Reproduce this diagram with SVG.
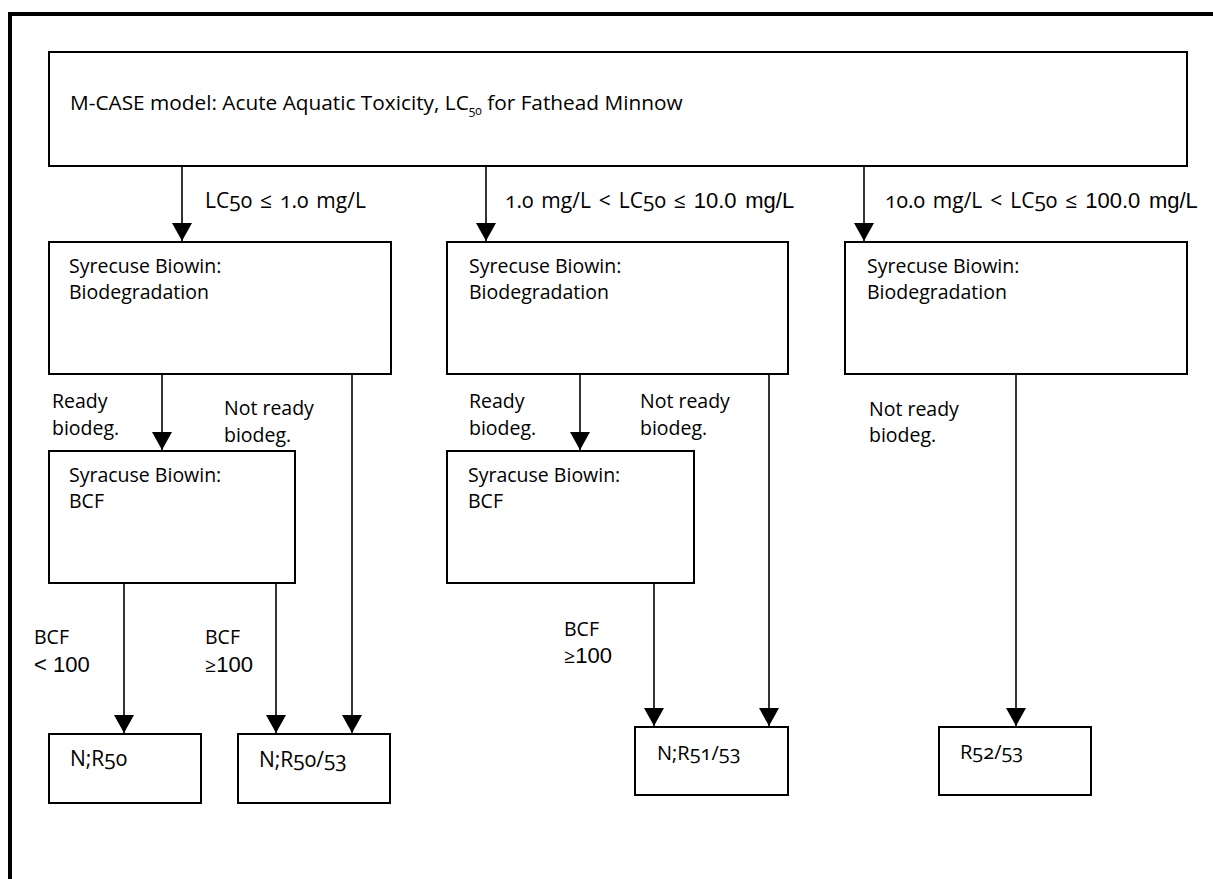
<svg xmlns="http://www.w3.org/2000/svg" width="1213" height="879" viewBox="0 0 1213 879">
<style>
.box{fill:#fff;stroke:#000;stroke-width:2}
.t{font-family:"Open Sans","Noto Sans","DejaVu Sans",sans-serif;font-size:19.5px;fill:#000;font-variant-numeric:oldstyle-nums}
.l{font-size:21px;word-spacing:2.5px}
.l .a{font-size:22px}
.r{font-size:21px}
.m{font-size:20px}
.h{font-size:20.8px}
.s{font-size:12px}
.a{font-family:"Liberation Sans",Arial,sans-serif}
.n{font-family:"Liberation Sans",Arial,sans-serif;font-size:22px}
.c{stroke:#000;stroke-width:1.6;fill:none}
</style>
<defs>
<marker id="ah" markerUnits="userSpaceOnUse" markerWidth="20" markerHeight="20" refX="18" refY="10" orient="auto">
<path d="M0,0 L18,10 L0,20 Z" fill="#000"/>
</marker>
</defs>
<g id="frame">
<line x1="8" y1="14" x2="1213" y2="14" stroke="#000" stroke-width="4"/>
<line x1="10" y1="12" x2="10" y2="879" stroke="#000" stroke-width="4"/>
</g>
<g id="connectors">
<line class="c" x1="182" y1="166" x2="182" y2="241" marker-end="url(#ah)"/>
<line class="c" x1="486" y1="166" x2="486" y2="241" marker-end="url(#ah)"/>
<line class="c" x1="864" y1="166" x2="864" y2="241" marker-end="url(#ah)"/>
<line class="c" x1="162" y1="374" x2="162" y2="450" marker-end="url(#ah)"/>
<line class="c" x1="352" y1="374" x2="352" y2="733" marker-end="url(#ah)"/>
<line class="c" x1="124" y1="583" x2="124" y2="733" marker-end="url(#ah)"/>
<line class="c" x1="276" y1="583" x2="276" y2="733" marker-end="url(#ah)"/>
<line class="c" x1="580" y1="374" x2="580" y2="450" marker-end="url(#ah)"/>
<line class="c" x1="769" y1="374" x2="769" y2="726" marker-end="url(#ah)"/>
<line class="c" x1="654" y1="575" x2="654" y2="726" marker-end="url(#ah)"/>
<line class="c" x1="1016" y1="374" x2="1016" y2="726" marker-end="url(#ah)"/>
<text class="t l" x="205" y="208">LC50 ≤ 1.0 mg/L</text>
<text class="t l" x="505" y="208">1.0 mg/L &lt; LC50 ≤ <tspan class="a">10.0 mg/L</tspan></text>
<text class="t l" x="885" y="208">10.0 mg/L &lt; LC50 ≤ <tspan class="a">100.0 mg/L</tspan></text>
<text class="t" x="52" y="408">Ready</text>
<text class="t" x="52" y="435">biodeg.</text>
<text class="t" x="224" y="415">Not ready</text>
<text class="t" x="224" y="442">biodeg.</text>
<text class="t" x="469" y="408">Ready</text>
<text class="t" x="469" y="435">biodeg.</text>
<text class="t" x="640" y="408">Not ready</text>
<text class="t" x="640" y="435">biodeg.</text>
<text class="t" x="869" y="416">Not ready</text>
<text class="t" x="869" y="442">biodeg.</text>
<text class="t" x="34" y="644">BCF</text>
<text class="n" x="34" y="672">&lt; 100</text>
<text class="t" x="205" y="644">BCF</text>
<text class="t" x="205" y="672"><tspan>≥</tspan><tspan class="n">100</tspan></text>
<text class="t" x="564" y="636">BCF</text>
<text class="t" x="564" y="663"><tspan>≥</tspan><tspan class="n">100</tspan></text>
</g>
<g id="top">
<rect class="box" x="49" y="52" width="1138" height="114"/>
<text class="t h" x="70" y="110">M-CASE model: Acute Aquatic Toxicity, LC<tspan class="s" dy="5">50</tspan><tspan dy="-5"> for Fathead Minnow</tspan></text>
</g>
<g id="bio1">
<rect class="box" x="49" y="242" width="342" height="132"/>
<text class="t" x="69" y="273">Syrecuse Biowin:</text>
<text class="t" x="69" y="299">Biodegradation</text>
</g>
<g id="bio2">
<rect class="box" x="447" y="242" width="341" height="132"/>
<text class="t" x="469" y="273">Syrecuse Biowin:</text>
<text class="t" x="469" y="299">Biodegradation</text>
</g>
<g id="bio3">
<rect class="box" x="845" y="242" width="342" height="132"/>
<text class="t" x="867" y="273">Syrecuse Biowin:</text>
<text class="t" x="867" y="299">Biodegradation</text>
</g>
<g id="bcf1">
<rect class="box" x="49" y="451" width="246" height="132"/>
<text class="t" x="69" y="482">Syracuse Biowin:</text>
<text class="t" x="69" y="508">BCF</text>
</g>
<g id="bcf2">
<rect class="box" x="447" y="451" width="247" height="132"/>
<text class="t" x="468" y="482">Syracuse Biowin:</text>
<text class="t" x="468" y="508">BCF</text>
</g>
<g id="r50">
<rect class="box" x="49" y="734" width="152" height="69"/>
<text class="t r" x="70" y="766">N;R50</text>
</g>
<g id="r5053">
<rect class="box" x="238" y="734" width="152" height="69"/>
<text class="t r" x="259" y="767">N;R50/53</text>
</g>
<g id="r5153">
<rect class="box" x="635" y="727" width="153" height="68"/>
<text class="t m" x="657" y="760">N;R51/53</text>
</g>
<g id="r5253">
<rect class="box" x="939" y="727" width="152" height="68"/>
<text class="t m" x="960" y="759">R52/53</text>
</g>
</svg>
